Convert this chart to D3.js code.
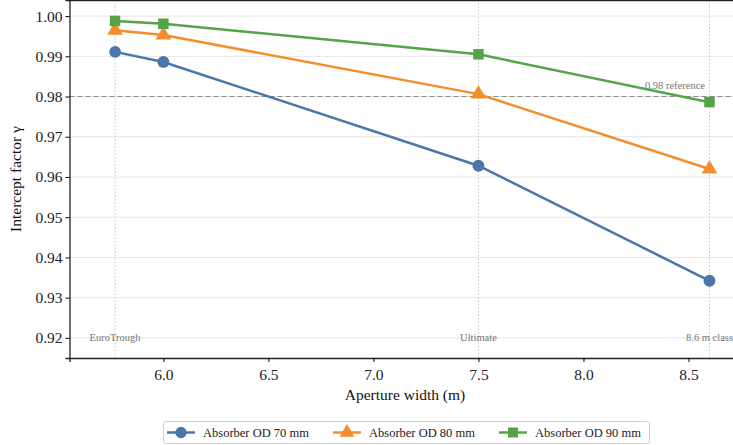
<!DOCTYPE html>
<html>
<head>
<meta charset="utf-8">
<script src="https://cdn.jsdelivr.net/npm/d3@7"></script>
<style>
  body { margin: 0; background: #fff; }
  svg, svg text { font-family: "Liberation Serif", "DejaVu Serif", serif; }
</style>
</head>
<body>
<div id="chart"></div>
<script>
// chart values
const apertures = [5.77, 6.0, 7.5, 8.6];
const od70 = [0.9911, 0.9886, 0.9628, 0.9342];
const od80 = [0.9965, 0.9953, 0.9806, 0.9620];
const od90 = [0.9988, 0.9981, 0.9905, 0.9786];
const seriesNames = ["Absorber OD 70 mm", "Absorber OD 80 mm", "Absorber OD 90 mm"];
const seriesColors = ["#4a76a8", "#f28e2b", "#55a448"];
const seriesSymbols = [d3.symbolCircle, d3.symbolTriangle, d3.symbolSquare];
const yTicks = [0.92, 0.93, 0.94, 0.95, 0.96, 0.97, 0.98, 0.99, 1.00];
const xTicks = [6.0, 6.5, 7.0, 7.5, 8.0, 8.5];
const refValue = 0.98;
const designs = [
  { name: "EuroTrough", x: 5.77 },
  { name: "Ultimate", x: 7.5 },
  { name: "8.6 m class", x: 8.6 }
];

const serif = "Liberation Serif, DejaVu Serif, serif";
const width = 733, height = 445;
const margins = { top: 0, bottom: 87, left: 69.5, right: -8 };

const svg = d3.select("#chart").append("svg")
  .attr("width", width)
  .attr("height", height)
  .attr("font-family", serif);

const xScale = d3.scaleLinear()
  .domain([5.553, 8.75])
  .range([margins.left, width - margins.right]);

const yScale = d3.scaleLinear()
  .domain([0.915, 1.004])
  .range([height - margins.bottom, margins.top]);

// horizontal grid
svg.append("g")
  .selectAll("line")
  .data(yTicks)
  .join("line")
  .attr("x1", margins.left)
  .attr("x2", width)
  .attr("y1", d => yScale(d))
  .attr("y2", d => yScale(d))
  .attr("stroke", "#e6e6e6")
  .attr("stroke-width", 1);

// vertical design markers
svg.append("g")
  .selectAll("line")
  .data(designs)
  .join("line")
  .attr("x1", d => xScale(d.x))
  .attr("x2", d => xScale(d.x))
  .attr("y1", yScale.range()[0])
  .attr("y2", yScale.range()[1])
  .attr("stroke", "#b5b5b5")
  .attr("stroke-width", 0.8)
  .attr("stroke-dasharray", "1.5,2");

svg.append("g")
  .attr("font-family", serif)
  .attr("font-size", 10.5)
  .selectAll("text")
  .data(designs)
  .join("text")
  .attr("x", d => xScale(d.x))
  .attr("y", yScale(0.92) + 3.5)
  .attr("text-anchor", "middle")
  .attr("fill", "#777")
  .text(d => d.name);

// reference line
svg.append("line")
  .attr("x1", margins.left)
  .attr("x2", width)
  .attr("y1", yScale(refValue))
  .attr("y2", yScale(refValue))
  .attr("stroke", "#888")
  .attr("stroke-width", 1)
  .attr("stroke-dasharray", "5,3");

svg.append("text")
  .attr("x", 705)
  .attr("y", yScale(refValue) - 8)
  .attr("text-anchor", "end")
  .attr("font-family", serif)
  .attr("font-size", 10.5)
  .attr("fill", "#777")
  .text("0.98 reference");

// series
const allSeries = [od70, od80, od90];
const line = d3.line()
  .x((d, i) => xScale(apertures[i]))
  .y(d => yScale(d));

allSeries.forEach((vals, s) => {
  svg.append("path")
    .datum(vals)
    .attr("fill", "none")
    .attr("stroke", seriesColors[s])
    .attr("stroke-width", 2.5)
    .attr("d", line);

  const size = s === 1 ? 105 : 110;
  svg.append("g")
    .selectAll("path")
    .data(vals)
    .join("path")
    .attr("transform", (d, i) => `translate(${xScale(apertures[i])},${yScale(d)})`)
    .attr("d", d3.symbol().type(seriesSymbols[s]).size(size))
    .attr("fill", seriesColors[s]);
});

// axes
svg.append("g")
  .attr("transform", `translate(0,${yScale.range()[0]})`)
  .call(d3.axisBottom(xScale).tickValues(xTicks).tickFormat(d3.format(".1f")).tickSizeOuter(0).tickSize(4))
  .attr("font-family", serif)
  .attr("font-size", 15.5)
  .call(g => g.selectAll("text").attr("fill", "#222").attr("dy", "0.95em"))
  .call(g => g.select(".domain").attr("stroke", "#222").attr("stroke-width", 1.3));

svg.append("g")
  .attr("transform", `translate(${margins.left},0)`)
  .call(d3.axisLeft(yScale).tickValues(yTicks).tickFormat(d3.format(".2f")).tickSizeOuter(0).tickSize(4))
  .attr("font-family", serif)
  .attr("font-size", 15.5)
  .call(g => g.selectAll("text").attr("fill", "#222"))
  .call(g => g.select(".domain").attr("stroke", "#222").attr("stroke-width", 1.3));

// top spine
svg.append("line")
  .attr("x1", margins.left)
  .attr("x2", width)
  .attr("y1", 0.5)
  .attr("y2", 0.5)
  .attr("stroke", "#222")
  .attr("stroke-width", 1.3);

// axis titles
svg.append("text")
  .attr("x", 405)
  .attr("y", 400)
  .attr("text-anchor", "middle")
  .attr("font-size", 15.5)
  .attr("fill", "#111")
  .text("Aperture width (m)");

svg.append("text")
  .attr("transform", `translate(21,${yScale.range()[0] / 2})rotate(-90)`)
  .attr("text-anchor", "middle")
  .attr("font-size", 15.5)
  .attr("fill", "#111")
  .text("Intercept factor γ");

// legend
const legend = svg.append("g");
legend.append("rect")
  .attr("x", 163.5)
  .attr("y", 421.5)
  .attr("width", 486)
  .attr("height", 22)
  .attr("rx", 2)
  .attr("fill", "#fff")
  .attr("stroke", "#cfcfcf");

const legendX = [167, 333, 499];
seriesNames.forEach((name, s) => {
  const g = legend.append("g").attr("transform", `translate(${legendX[s]},432.5)`);
  g.append("line")
    .attr("x1", 0).attr("x2", 28)
    .attr("stroke", seriesColors[s]).attr("stroke-width", 2.5);
  g.append("path")
    .attr("transform", "translate(14,0)")
    .attr("d", d3.symbol().type(seriesSymbols[s]).size(s === 1 ? 95 : 100))
    .attr("fill", seriesColors[s]);
  g.append("text")
    .attr("x", 36)
    .attr("y", 4.5)
    .attr("font-size", 12.5)
    .attr("fill", "#222")
    .text(name);
});
</script>
</body>
</html>
